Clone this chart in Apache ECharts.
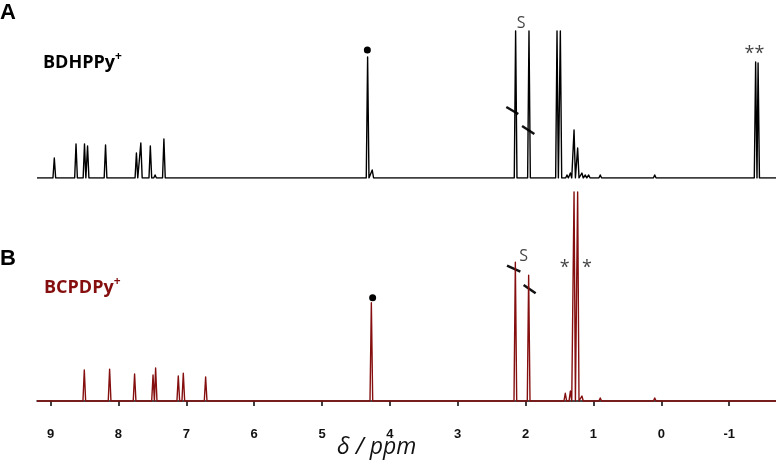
<!DOCTYPE html>
<html><head><meta charset="utf-8">
<script src="https://cdn.jsdelivr.net/npm/echarts@6/dist/echarts.min.js"></script>
<style>html,body{margin:0;padding:0;background:#fff}#c{width:776px;height:465px}</style>
</head><body><div id="c"></div>
<script>
// tick labels of the chemical-shift axis (ppm)
const tickLabels = [9, 8, 7, 6, 5, 4, 3, 2, 1, 0, -1];
// spectrum A (BDHPPy+): [ppm, intensity]
const peaksA = [
  [8.945, 20], [8.625, 34], [8.50, 34], [8.455, 32], [8.19, 33], [8.10, 2],
  [7.735, 25], [7.67, 35], [7.53, 32], [7.46, 3], [7.42, 2], [7.33, 39],
  [7.09, 2], [7.02, 2], [6.69, 2], [4.328, 121], [4.26, 8],
  [2.147, 147], [1.95, 147], [1.81, 2], [1.64, 2], [1.537, 147], [1.488, 147],
  [1.39, 3], [1.34, 5], [1.286, 48], [1.233, 30], [1.17, 5], [1.12, 3], [1.07, 3],
  [0.90, 3], [0.097, 3], [-1.39, 116], [-1.426, 115]
];
// spectrum B (BCPDPy+): [ppm, intensity]
const peaksB = [
  [8.503, 31], [8.13, 31.7], [7.762, 27], [7.49, 26], [7.452, 33],
  [7.118, 25], [7.044, 27.7], [6.715, 24], [4.273, 98.3],
  [2.151, 138.7], [1.955, 125.7], [1.415, 7.7], [1.34, 10],
  [1.286, 209], [1.233, 209], [1.17, 5], [0.90, 3], [0.097, 3]
];
// annotations
const dotsA = [[4.332, 128]];
const dotsB = [[4.254, 103.3]];
const textA = [[2.067, 155, 'S'], [-1.372, 123.7, '**']];
const textB = [[2.029, 144.3, 'S'], [1.424, 132.7, '*'], [1.094, 132.7, '*']];
const slashA = [[[2.284, 71], [2.107, 64]], [[2.052, 52], [1.871, 44]]];
const slashB = [[[2.274, 135.3], [2.077, 129.3]], [[2.029, 116], [1.852, 107.7]]];

const X_MIN = -1.69, X_MAX = 9.2, HW = 0.02;
function spectrum(peaks) {
  const pts = [[X_MAX, 0]];
  peaks.slice().sort((a, b) => b[0] - a[0]).forEach(([p, h]) => {
    pts.push([p + HW, 0], [p, h], [p - HW, 0]);
  });
  pts.push([X_MIN, 0]);
  return pts;
}
const chart = echarts.init(document.getElementById('c'), null, {renderer: 'canvas'});
const RED = '#850f0f';
function textSeries(data, xi, size) {
  return {
    type: 'scatter', xAxisIndex: xi, yAxisIndex: xi, data: data, symbolSize: 0, clip: false,
    label: {show: true, position: 'inside', formatter: p => p.data[2],
      fontFamily: 'Open Sans', fontSize: size, color: '#111'},
    silent: true
  };
}
chart.setOption({
  animation: false,
  backgroundColor: '#fff',
  grid: [
    {left: 37, right: 0, top: 10, height: 168},
    {left: 37, right: 0, top: 150, bottom: 49}
  ],
  xAxis: [
    {gridIndex: 0, type: 'value', min: X_MIN, max: X_MAX, inverse: true, show: false},
    {gridIndex: 1, type: 'value', min: X_MIN, max: X_MAX, inverse: true,
      axisLine: {show: true, lineStyle: {color: '#111', width: 1.6}},
      axisTick: {show: true, customValues: tickLabels, length: 5, lineStyle: {color: '#111', width: 1.6}},
      axisLabel: {show: true, customValues: tickLabels, margin: 12, fontFamily: 'Liberation Sans',
        fontWeight: 'bold', fontSize: 13, color: '#111', formatter: v => String(v)},
      splitLine: {show: false}}
  ],
  yAxis: [
    {gridIndex: 0, type: 'value', min: 0, max: 168, show: false},
    {gridIndex: 1, type: 'value', min: -15, max: 251, show: false}
  ],
  series: [
    {type: 'line', xAxisIndex: 0, yAxisIndex: 0, data: spectrum(peaksA), showSymbol: false,
      lineStyle: {color: '#000', width: 1.4, join: 'round'}, silent: true},
    {type: 'line', xAxisIndex: 1, yAxisIndex: 1, data: spectrum(peaksB), showSymbol: false,
      lineStyle: {color: RED, width: 1.4, join: 'round'}, silent: true},
    {type: 'scatter', xAxisIndex: 0, yAxisIndex: 0, data: dotsA, symbolSize: 7, itemStyle: {color: '#000', opacity: 1}, clip: false},
    {type: 'scatter', xAxisIndex: 1, yAxisIndex: 1, data: dotsB, symbolSize: 7, itemStyle: {color: '#000', opacity: 1}, clip: false},
    textSeries(textA.slice(0, 1), 0, 16),
    textSeries(textA.slice(1), 0, 18),
    textSeries(textB.slice(0, 1), 1, 16),
    textSeries(textB.slice(1), 1, 18),
    {type: 'lines', coordinateSystem: 'cartesian2d', xAxisIndex: 0, yAxisIndex: 0,
      data: slashA.map(c => ({coords: c})), lineStyle: {color: '#111', width: 2.5, opacity: 1}},
    {type: 'lines', coordinateSystem: 'cartesian2d', xAxisIndex: 1, yAxisIndex: 1,
      data: slashB.map(c => ({coords: c})), lineStyle: {color: '#111', width: 2.5, opacity: 1}}
  ],
  graphic: [
    {type: 'text', left: 0, top: 2, style: {text: 'A', font: 'bold 22px "Liberation Sans"', fill: '#000'}},
    {type: 'text', left: 0, top: 248, style: {text: 'B', font: 'bold 22px "Liberation Sans"', fill: '#000'}},
    {type: 'text', left: 43, top: 51, style: {text: '{b|BDHPPy}{s|+}',
      rich: {b: {fontFamily: 'Open Sans', fontWeight: 'bold', fontSize: 18, fill: '#000', lineHeight: 23},
             s: {fontFamily: 'Open Sans', fontWeight: 'bold', fontSize: 12, fill: '#000', verticalAlign: 'top', lineHeight: 13}}}},
    {type: 'text', left: 44, top: 276, style: {text: '{b|BCPDPy}{s|+}',
      rich: {b: {fontFamily: 'Open Sans', fontWeight: 'bold', fontSize: 18, fill: RED, lineHeight: 23},
             s: {fontFamily: 'Open Sans', fontWeight: 'bold', fontSize: 12, fill: RED, verticalAlign: 'top', lineHeight: 13}}}},
    {type: 'text', left: 337, top: 436, style: {text: 'δ / ppm', font: 'italic 23px "Open Sans"', fill: '#111'}}
  ]
});
</script></body></html>
